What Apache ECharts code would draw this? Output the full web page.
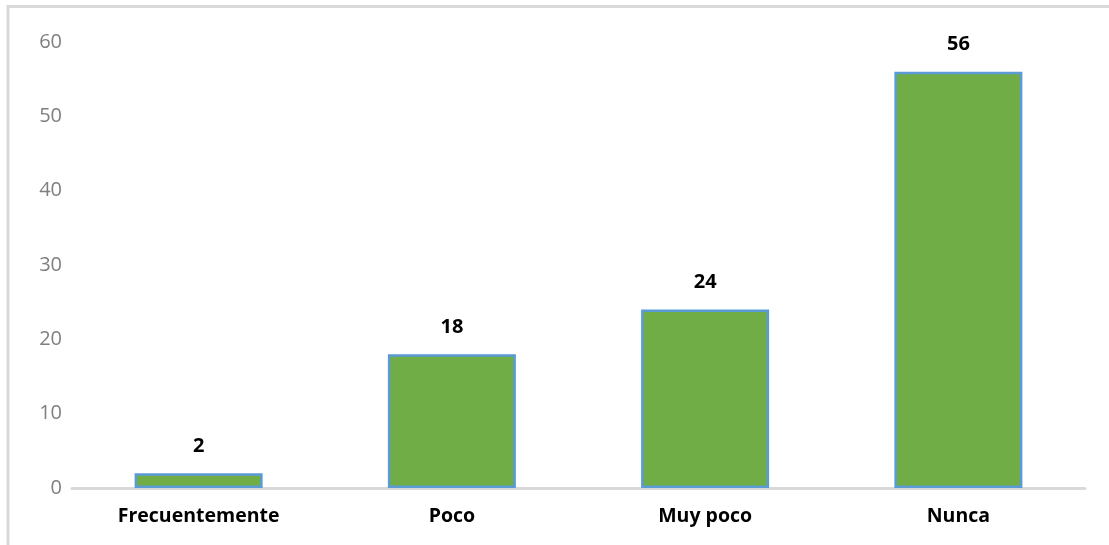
<!DOCTYPE html>
<html>
<head>
<meta charset="utf-8">
<script src="https://cdn.jsdelivr.net/npm/echarts@6/dist/echarts.min.js"></script>
<style>
  html, body { margin: 0; padding: 0; background: #ffffff; }
  #chart { width: 1109px; height: 545px; }
</style>
</head>
<body>
<div id="chart"></div>
<script>
// Response categories and counts
const categories = ['Frecuentemente', 'Poco', 'Muy poco', 'Nunca'];
const counts = [2, 18, 24, 56];
const yTicks = { min: 0, max: 60, interval: 10 };

const chart = echarts.init(document.getElementById('chart'), null, { renderer: 'canvas' });

chart.setOption({
  backgroundColor: '#ffffff',
  animation: false,
  graphic: [
    // chart frame: top and left edges
    { type: 'line', shape: { x1: 8, y1: 6.5, x2: 1109, y2: 6.5 }, style: { stroke: '#d9d9d9', lineWidth: 3 } },
    { type: 'line', shape: { x1: 8, y1: 5, x2: 8, y2: 545 }, style: { stroke: '#d9d9d9', lineWidth: 3 } }
  ],
  grid: { left: 72, right: 24, top: 42, bottom: 57, containLabel: false },
  xAxis: {
    type: 'category',
    data: categories,
    axisLine: { show: true, lineStyle: { color: '#d9d9d9', width: 3 } },
    axisTick: { show: false },
    axisLabel: {
      margin: 18,
      color: '#000000',
      fontFamily: 'Open Sans',
      fontWeight: 'bold',
      fontSize: 19.5
    }
  },
  yAxis: {
    type: 'value',
    min: yTicks.min,
    max: yTicks.max,
    interval: yTicks.interval,
    axisLine: { show: false },
    axisTick: { show: false },
    splitLine: { show: false },
    axisLabel: {
      margin: 10,
      color: '#7f7f7f',
      fontFamily: 'Open Sans',
      fontSize: 20
    }
  },
  series: [{
    type: 'bar',
    data: counts,
    barWidth: 128,
    itemStyle: {
      color: '#70ad47',
      borderColor: '#5b9bd5',
      borderWidth: 2.5
    },
    label: {
      show: true,
      position: 'top',
      distance: 17,
      color: '#000000',
      fontFamily: 'Open Sans',
      fontWeight: 'bold',
      fontSize: 20
    }
  }]
});
</script>
</body>
</html>
